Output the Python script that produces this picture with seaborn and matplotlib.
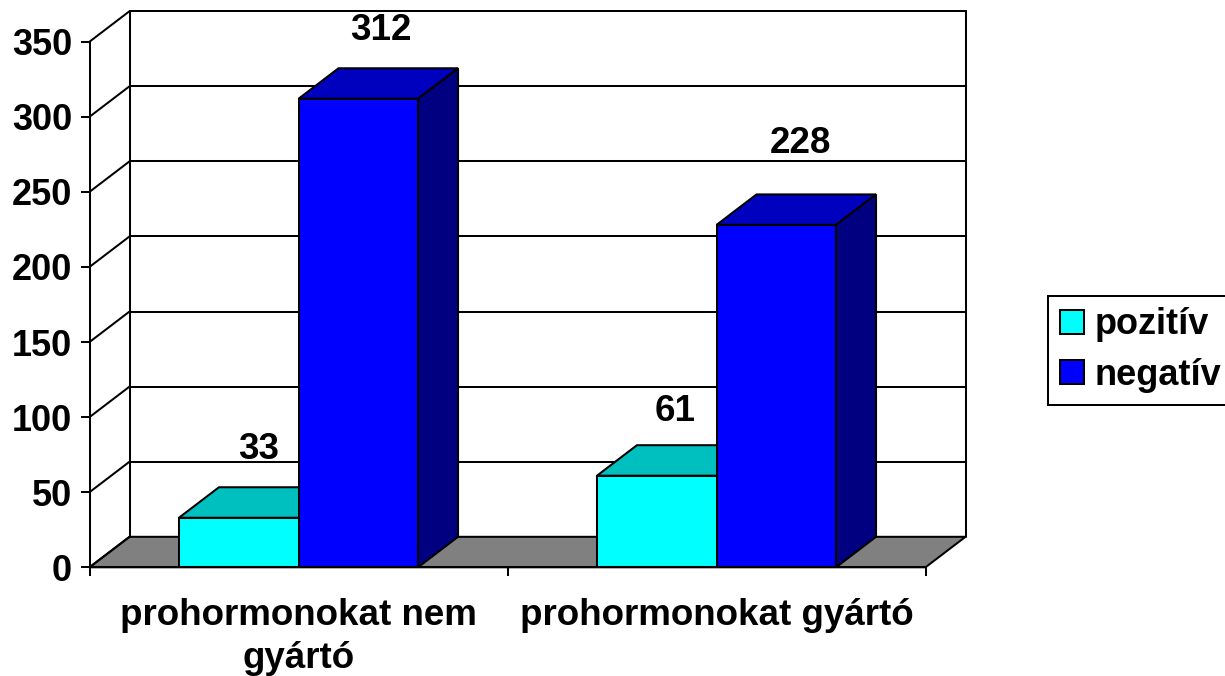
import numpy as np
import pandas as pd
import seaborn as sns
import matplotlib.pyplot as plt
from matplotlib.patches import Polygon

kategoriak = ["prohormonokat nem\ngyártó", "prohormonokat gyártó"]
sorozatok = ["pozitív", "negatív"]
pozitiv = [33, 61]
negativ = [312, 228]
y_ticks = [0, 50, 100, 150, 200, 250, 300, 350]

szinek = {"pozitív": "#00FFFF", "negatív": "#0000FF"}
szin_teto = {"pozitív": "#00BFBF", "negatív": "#0000BF"}
szin_oldal = {"pozitív": "#008080", "negatív": "#000080"}

# a feliratok kezzel igazitott eltolasa (x, y) pixelben
felirat_eltolas = {33: (0, 38), 61: (-2, 34), 312: (3, 38), 228: (4, 51)}

W, H = 1225, 676
LW = 1.45
FONT = 26.5

sns.set_theme(style="white")
plt.rcParams["font.family"] = ["Liberation Sans", "DejaVu Sans"]
plt.rcParams["font.weight"] = "bold"
plt.rcParams["text.color"] = "black"

df = pd.DataFrame({
    "kategoria": kategoriak * 2,
    "sorozat": [sorozatok[0]] * 2 + [sorozatok[1]] * 2,
    "ertek": pozitiv + negativ,
})

fig = plt.figure(figsize=(W / 100, H / 100), dpi=100)
ax = fig.add_axes([89.5 / W, (H - 567.3) / H, 836 / W, 525.6 / H])

sns.barplot(data=df, x="kategoria", y="ertek", hue="sorozat", palette=szinek,
            width=0.572, gap=0, edgecolor="black", linewidth=LW, saturation=1,
            ax=ax, zorder=5)

ax.set_xlim(-0.5, 1.5)
ax.set_ylim(0, 350)

# a 3D melyseg pixelben, adategysegre valtva
px_x = 2 / 836
px_y = 350 / 525.6
dx = 40 * px_x
dy = 30.5 * px_y

# hatso fal es padlo
ax.add_patch(Polygon([(-0.5, 0), (-0.5 + dx, dy), (1.5 + dx, dy), (1.5, 0)], closed=True,
                     facecolor="#808080", edgecolor="black", linewidth=LW,
                     clip_on=False, zorder=1))
for t in y_ticks:
    ax.plot([-0.5, -0.5 + dx], [t, t + dy], color="black", lw=LW, clip_on=False, zorder=2)
    if t > 0:
        ax.plot([-0.5 + dx, 1.5 + dx], [t + dy, t + dy], color="black", lw=LW, clip_on=False, zorder=2)
for xx in [-0.5 + dx, 1.5 + dx]:
    ax.plot([xx, xx], [dy, 350 + dy], color="black", lw=LW, clip_on=False, zorder=2)

# oszlopok teteje es oldala
for i, (nev, cont) in enumerate(zip(sorozatok, ax.containers)):
    for bar in cont:
        x0 = bar.get_x()
        x1 = x0 + bar.get_width()
        h = bar.get_height()
        z = 3 + i * 2
        ax.add_patch(Polygon([(x0, h), (x0 + dx, h + dy), (x1 + dx, h + dy), (x1, h)], closed=True,
                             facecolor=szin_teto[nev], edgecolor="black", linewidth=LW,
                             clip_on=False, zorder=z))
        ax.add_patch(Polygon([(x1, 0), (x1 + dx, dy), (x1 + dx, h + dy), (x1, h)], closed=True,
                             facecolor=szin_oldal[nev], edgecolor="black", linewidth=LW,
                             clip_on=False, zorder=z))
        bar.set_zorder(z + 1)
        ex, ey = felirat_eltolas[int(h)]
        ax.text((x0 + x1) / 2 + dx / 2 + ex * px_x, h + dy + ey * px_y, f"{int(h)}",
                ha="center", va="center", fontsize=FONT, fontweight="bold", color="black", zorder=10)

ax.set_xlabel("")
ax.set_ylabel("")
ax.set_yticks(y_ticks)
ax.set_xticks([-0.5, 0.5, 1.5])
ax.set_xticklabels(["", "", ""])
ax.set_xticks([0, 1], labels=kategoriak, minor=True)
ax.tick_params(axis="x", which="major", length=6.5, width=LW, color="black", bottom=True)
ax.tick_params(axis="x", which="minor", length=0, pad=22, labelsize=FONT, labelcolor="black", bottom=False)
ax.tick_params(axis="y", length=6.5, width=LW, color="black", left=True, pad=6,
               labelsize=26, labelcolor="black")
for lab in ax.get_xticklabels(minor=True):
    lab.set_linespacing(1.3)
    lab.set_fontweight("bold")
for lab in ax.get_yticklabels():
    lab.set_fontweight("bold")

sns.despine(ax=ax, top=True, right=True)
for s in ["left", "bottom"]:
    ax.spines[s].set_color("black")
    ax.spines[s].set_linewidth(LW)
    ax.spines[s].set_zorder(4)
ax.patch.set_alpha(0)

sns.move_legend(ax, loc="center left", bbox_to_anchor=(1048 / W, (H - 350) / H),
                bbox_transform=fig.transFigure, title=None, frameon=True, fancybox=False,
                framealpha=1, edgecolor="black", fontsize=26, handlelength=0.66,
                handleheight=0.66, handletextpad=0.3, labelspacing=0.42,
                borderpad=0.33, borderaxespad=0)
leg = ax.get_legend()
leg.get_frame().set_linewidth(LW)
leg.set_zorder(20)
for txt in leg.get_texts():
    txt.set_color("black")
    txt.set_fontweight("bold")

fig.savefig("out.png", dpi=100)
